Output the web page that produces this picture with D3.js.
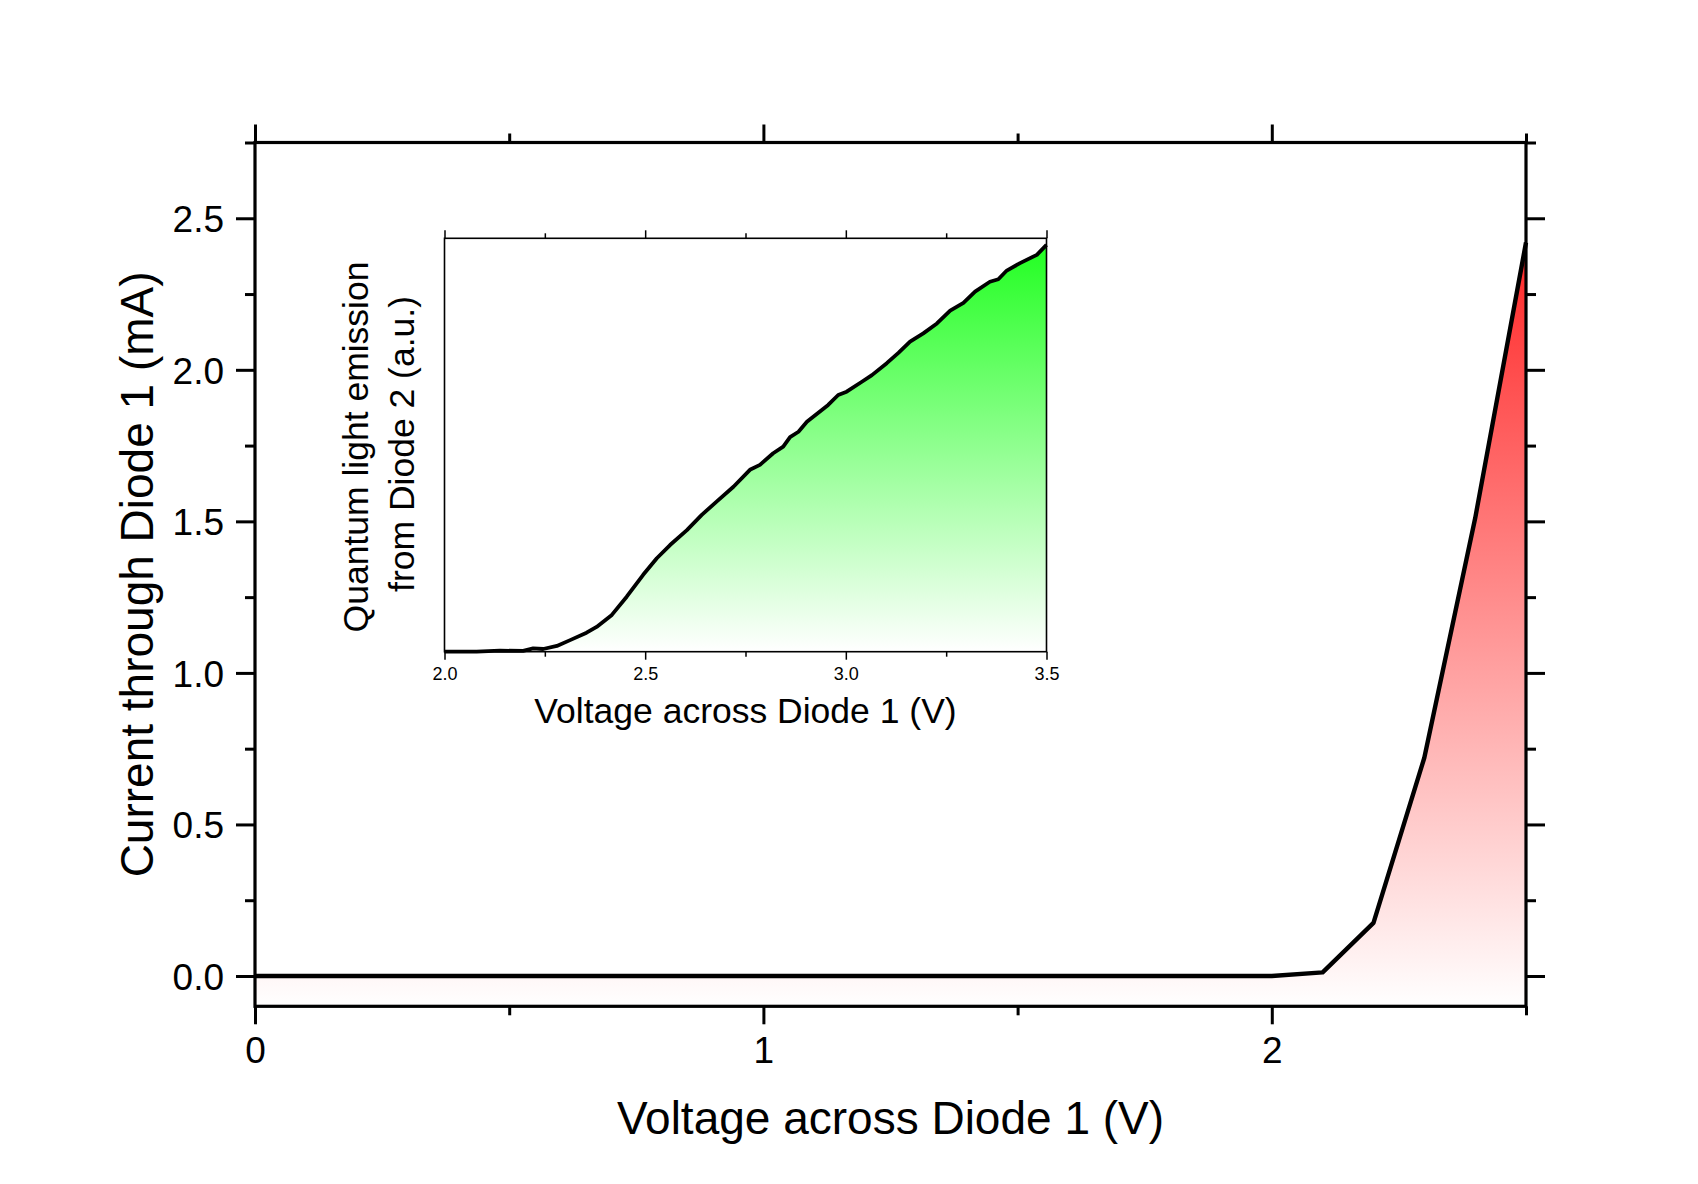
<!DOCTYPE html>
<html>
<head>
<meta charset="utf-8">
<script src="https://cdn.jsdelivr.net/npm/d3@7"></script>
<style>
  html, body { margin: 0; padding: 0; background: #ffffff; }
  svg { display: block; }
  text { font-family: "Liberation Sans", Arial, Helvetica, sans-serif; fill: #000; }
</style>
</head>
<body>
<svg id="chart" width="1698" height="1184"></svg>
<script>
// ---------------- DATA ----------------
// Main chart: current through diode 1 vs voltage
const mainVoltage = [0.0, 0.1, 0.2, 0.3, 0.4, 0.5, 0.6, 0.7, 0.8, 0.9, 1.0, 1.1, 1.2, 1.3, 1.4, 1.5, 1.6, 1.7, 1.8, 1.9, 2.0, 2.1, 2.2, 2.3, 2.4, 2.5];
const mainCurrent = [0, 0, 0, 0, 0, 0, 0, 0, 0, 0, 0, 0, 0, 0, 0, 0, 0, 0, 0, 0, 0.0, 0.012, 0.175, 0.72, 1.51, 2.42];
const mainXMajor = [0, 1, 2];
const mainXMinor = [0.5, 1.5, 2.5];
const mainYMajor = [0.0, 0.5, 1.0, 1.5, 2.0, 2.5];
const mainYMinor = [0.25, 0.75, 1.25, 1.75, 2.25, 2.75];
const mainXTitle = "Voltage across Diode 1 (V)";
const mainYTitle = "Current through Diode 1 (mA)";

// Inset: quantum light emission from diode 2 (arbitrary units)
const insetVoltage = [2.0, 2.08, 2.138, 2.196, 2.221, 2.246, 2.28, 2.313, 2.354, 2.379, 2.417, 2.454, 2.495, 2.529, 2.562, 2.604, 2.641, 2.678, 2.72, 2.761, 2.786, 2.819, 2.844, 2.861, 2.882, 2.903, 2.956, 2.981, 3.002, 3.04, 3.065, 3.102, 3.131, 3.16, 3.193, 3.227, 3.26, 3.293, 3.322, 3.359, 3.38, 3.401, 3.434, 3.476, 3.5];
const insetEmission = [0.0, 0.0, 0.0024, 0.002, 0.008, 0.0065, 0.014, 0.028, 0.046, 0.06, 0.089, 0.133, 0.186, 0.226, 0.258, 0.294, 0.331, 0.363, 0.399, 0.44, 0.452, 0.48, 0.496, 0.519, 0.532, 0.556, 0.597, 0.621, 0.629, 0.653, 0.669, 0.698, 0.723, 0.75, 0.77, 0.794, 0.825, 0.844, 0.871, 0.895, 0.901, 0.922, 0.94, 0.96, 0.984];
const insetXMajor = [2.0, 2.5, 3.0, 3.5];
const insetXMinor = [2.25, 2.75, 3.25];
const insetXTitle = "Voltage across Diode 1 (V)";
const insetYTitleLines = ["Quantum light emission", "from Diode 2 (a.u.)"];

// ---------------- LAYOUT ----------------
const svg = d3.select("#chart");
const defs = svg.append("defs");

const M = { left: 255, right: 1526, top: 142.5, bottom: 1006.3 };
const x = d3.scaleLinear().domain([0, 2.5]).range([M.left, M.right]);
const y = d3.scaleLinear().domain([-0.1, 2.75]).range([M.bottom, M.top]);

// red gradient
const redGrad = defs.append("linearGradient")
  .attr("id", "redGrad").attr("gradientUnits", "userSpaceOnUse")
  .attr("x1", 0).attr("x2", 0)
  .attr("y1", y(2.42)).attr("y2", y(-0.1));
redGrad.append("stop").attr("offset", 0).attr("stop-color", "rgb(255,40,40)");
redGrad.append("stop").attr("offset", 1).attr("stop-color", "rgb(255,255,255)");

const mainData = mainVoltage.map((v, i) => [v, mainCurrent[i]]);

svg.append("path")
  .datum(mainData)
  .attr("fill", "url(#redGrad)")
  .attr("d", d3.area().x(d => x(d[0])).y0(y(-0.1)).y1(d => y(d[1])));

svg.append("path")
  .datum(mainData)
  .attr("fill", "none").attr("stroke", "#000").attr("stroke-width", 4.4)
  .attr("stroke-linejoin", "round")
  .attr("d", d3.line().x(d => x(d[0])).y(d => y(d[1])));

// axes helper
function styleAxis(g, w) {
  g.select(".domain").remove();
  g.selectAll(".tick line").attr("stroke", "#000").attr("stroke-width", w);
}
const tickFont = 37;

// bottom
const gB = svg.append("g").attr("transform", `translate(0,${M.bottom})`)
  .call(d3.axisBottom(x).tickValues(mainXMajor).tickSize(18).tickPadding(12).tickFormat(d3.format("d")));
styleAxis(gB, 3);
gB.selectAll("text").attr("font-size", tickFont).attr("dy", "0.72em");
const gBm = svg.append("g").attr("transform", `translate(0,${M.bottom})`)
  .call(d3.axisBottom(x).tickValues(mainXMinor).tickSize(9).tickFormat(""));
styleAxis(gBm, 3);
// top
const gT = svg.append("g").attr("transform", `translate(0,${M.top})`)
  .call(d3.axisTop(x).tickValues(mainXMajor).tickSize(18).tickFormat(""));
styleAxis(gT, 3);
const gTm = svg.append("g").attr("transform", `translate(0,${M.top})`)
  .call(d3.axisTop(x).tickValues(mainXMinor).tickSize(9).tickFormat(""));
styleAxis(gTm, 3);
// left
const gL = svg.append("g").attr("transform", `translate(${M.left},0)`)
  .call(d3.axisLeft(y).tickValues(mainYMajor).tickSize(19).tickPadding(12).tickFormat(d3.format(".1f")));
styleAxis(gL, 3);
gL.selectAll("text").attr("font-size", tickFont).attr("dy", "0.36em");
const gLm = svg.append("g").attr("transform", `translate(${M.left},0)`)
  .call(d3.axisLeft(y).tickValues(mainYMinor).tickSize(10).tickFormat(""));
styleAxis(gLm, 3);
// right
const gR = svg.append("g").attr("transform", `translate(${M.right},0)`)
  .call(d3.axisRight(y).tickValues(mainYMajor).tickSize(19).tickFormat(""));
styleAxis(gR, 3);
const gRm = svg.append("g").attr("transform", `translate(${M.right},0)`)
  .call(d3.axisRight(y).tickValues(mainYMinor).tickSize(10).tickFormat(""));
styleAxis(gRm, 3);

// frame
svg.append("rect")
  .attr("x", M.left).attr("y", M.top)
  .attr("width", M.right - M.left).attr("height", M.bottom - M.top)
  .attr("fill", "none").attr("stroke", "#000").attr("stroke-width", 3.2);

// main titles
svg.append("text")
  .attr("x", (M.left + M.right) / 2).attr("y", 1134)
  .attr("text-anchor", "middle").attr("font-size", 46)
  .text(mainXTitle);
svg.append("text")
  .attr("transform", `translate(153,${(M.top + M.bottom) / 2}) rotate(-90)`)
  .attr("text-anchor", "middle").attr("font-size", 46)
  .text(mainYTitle);

// ---------------- INSET ----------------
const I = { left: 444.5, right: 1046.5, top: 238.3, bottom: 651.7 };
const xi = d3.scaleLinear().domain([2.0, 3.5]).range([I.left, I.right]);
const yi = d3.scaleLinear().domain([0, 1]).range([I.bottom, I.top]);

const greenGrad = defs.append("linearGradient")
  .attr("id", "greenGrad").attr("gradientUnits", "userSpaceOnUse")
  .attr("x1", 0).attr("x2", 0)
  .attr("y1", yi(0.984)).attr("y2", yi(0));
greenGrad.append("stop").attr("offset", 0).attr("stop-color", "rgb(34,255,34)");
greenGrad.append("stop").attr("offset", 1).attr("stop-color", "rgb(255,255,255)");

const insetData = insetVoltage.map((v, i) => [v, insetEmission[i]]);

svg.append("path")
  .datum(insetData)
  .attr("fill", "url(#greenGrad)")
  .attr("d", d3.area().x(d => xi(d[0])).y0(yi(0)).y1(d => yi(d[1])));

svg.append("path")
  .datum(insetData)
  .attr("fill", "none").attr("stroke", "#000").attr("stroke-width", 3.8)
  .attr("stroke-linejoin", "round")
  .attr("d", d3.line().x(d => xi(d[0])).y(d => yi(d[1])));

const giB = svg.append("g").attr("transform", `translate(0,${I.bottom})`)
  .call(d3.axisBottom(xi).tickValues(insetXMajor).tickSize(8).tickPadding(8).tickFormat(d3.format(".1f")));
styleAxis(giB, 1.5);
giB.selectAll("text").attr("font-size", 18).attr("dy", "0.7em");
const giBm = svg.append("g").attr("transform", `translate(0,${I.bottom})`)
  .call(d3.axisBottom(xi).tickValues(insetXMinor).tickSize(5).tickFormat(""));
styleAxis(giBm, 1.5);
const giT = svg.append("g").attr("transform", `translate(0,${I.top})`)
  .call(d3.axisTop(xi).tickValues(insetXMajor).tickSize(8).tickFormat(""));
styleAxis(giT, 1.5);
const giTm = svg.append("g").attr("transform", `translate(0,${I.top})`)
  .call(d3.axisTop(xi).tickValues(insetXMinor).tickSize(5).tickFormat(""));
styleAxis(giTm, 1.5);

svg.append("rect")
  .attr("x", I.left).attr("y", I.top)
  .attr("width", I.right - I.left).attr("height", I.bottom - I.top)
  .attr("fill", "none").attr("stroke", "#000").attr("stroke-width", 1.6);

svg.append("text")
  .attr("x", (I.left + I.right) / 2).attr("y", 723)
  .attr("text-anchor", "middle").attr("font-size", 35.5)
  .text(insetXTitle);

const insetYC = (I.top + I.bottom) / 2;
insetYTitleLines.forEach((t, i) => {
  svg.append("text")
    .attr("transform", `translate(${368 + i * 46},${insetYC + (i === 0 ? 2 : -1)}) rotate(-90)`)
    .attr("text-anchor", "middle").attr("font-size", 35.5)
    .text(t);
});
</script>
</body>
</html>
